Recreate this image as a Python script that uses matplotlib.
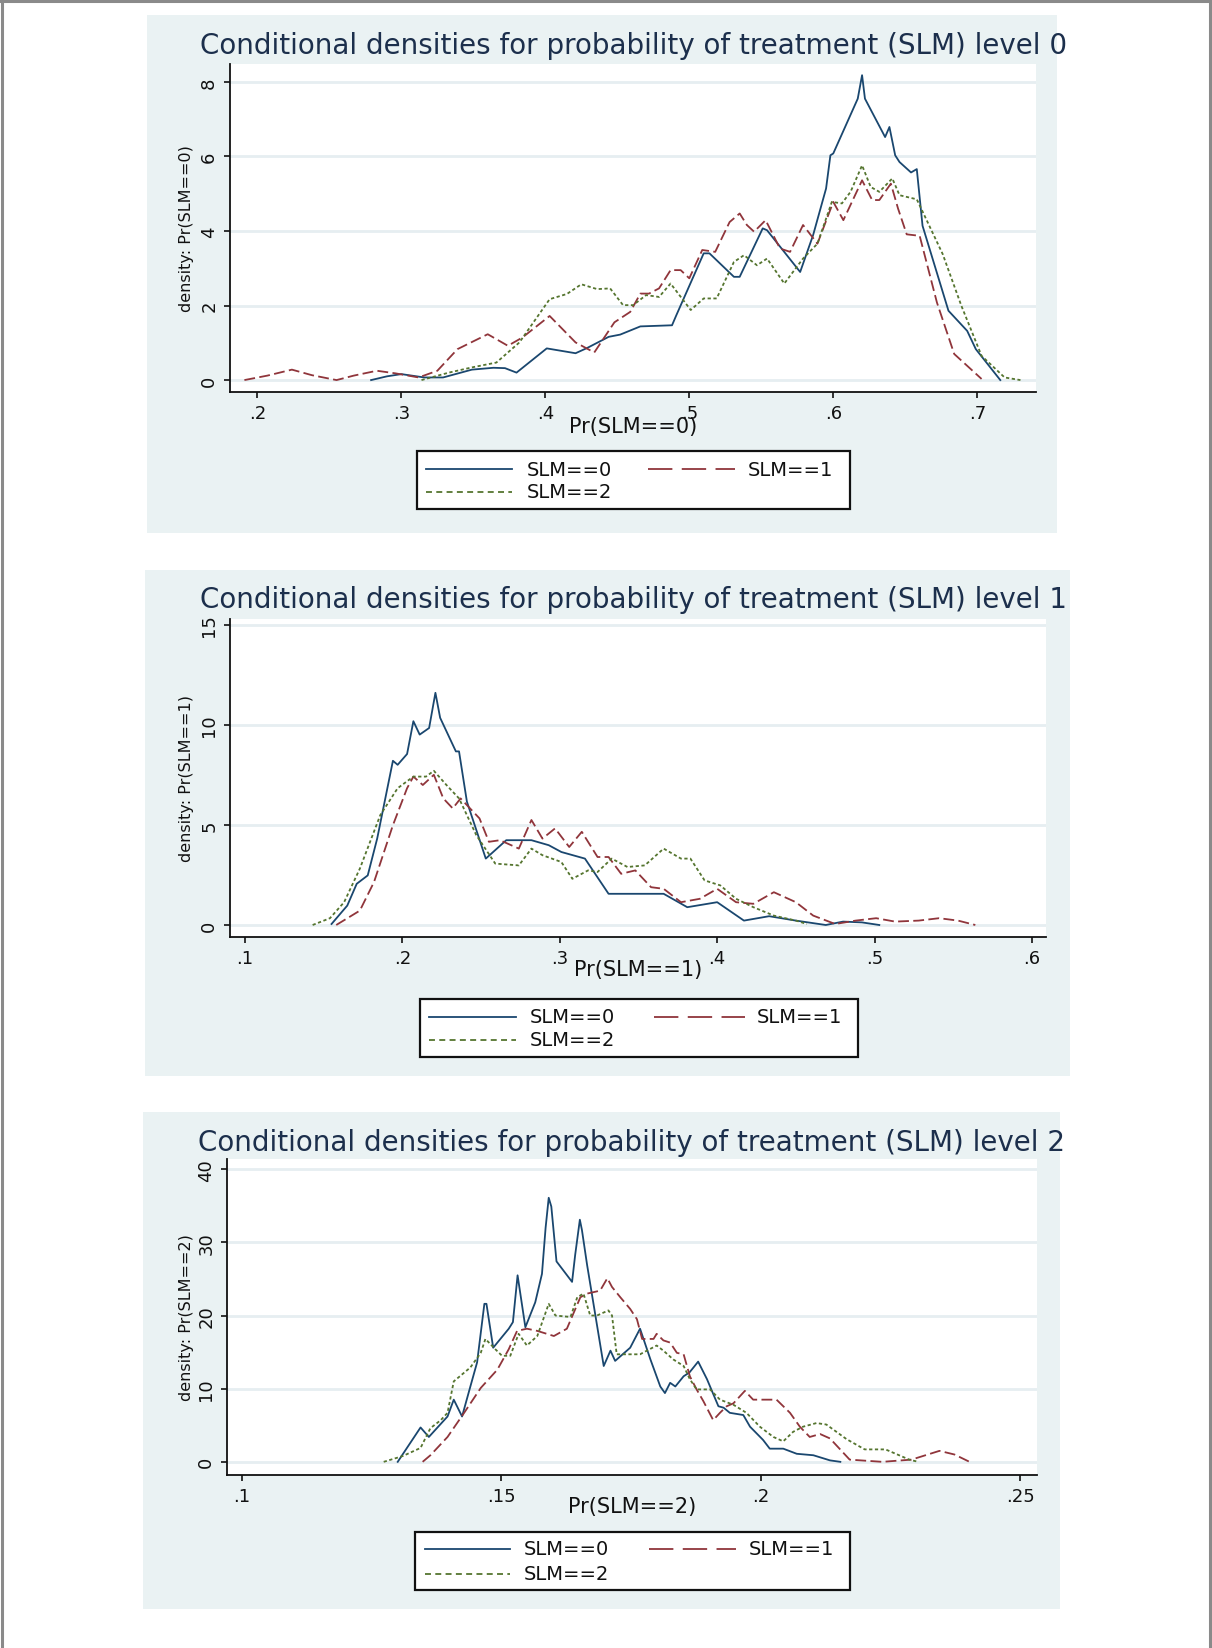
import matplotlib.pyplot as plt
from matplotlib.patches import Rectangle
from matplotlib.lines import Line2D

W, H = 1212, 1649
NAVY, MAROON, FOREST = '#1a476f', '#90353b', '#55752f'
PANEL_BG = '#eaf2f3'
GRID = '#e6eef1'
TITLE_COLOR = '#1c2f4c'

# ---- level 0: Pr(SLM==0) ----
p0_x_slm0 = [0.279, 0.290, 0.300, 0.316, 0.329, 0.349, 0.364, 0.372, 0.380, 0.401, 0.421, 0.429,
             0.444, 0.452, 0.466, 0.488, 0.491, 0.510, 0.514, 0.531, 0.535, 0.551, 0.554, 0.577,
             0.586, 0.595, 0.598, 0.600, 0.617, 0.620, 0.622, 0.636, 0.639, 0.643, 0.646, 0.654,
             0.658, 0.662, 0.680, 0.693, 0.699, 0.716]
p0_y_slm0 = [0.00, 0.10, 0.16, 0.07, 0.07, 0.28, 0.33, 0.32, 0.20, 0.85, 0.72, 0.86,
             1.16, 1.22, 1.44, 1.47, 1.74, 3.40, 3.40, 2.77, 2.77, 4.07, 4.02, 2.90,
             3.89, 5.14, 6.03, 6.08, 7.55, 8.18, 7.55, 6.52, 6.79, 6.03, 5.85, 5.57,
             5.66, 4.14, 1.86, 1.32, 0.83, 0.00]
p0_x_slm1 = [0.191, 0.207, 0.224, 0.238, 0.255, 0.267, 0.283, 0.296, 0.312, 0.325, 0.339, 0.360,
             0.374, 0.384, 0.403, 0.421, 0.434, 0.448, 0.459, 0.466, 0.472, 0.479, 0.487, 0.494,
             0.500, 0.509, 0.518, 0.528, 0.535, 0.540, 0.545, 0.553, 0.563, 0.570, 0.579, 0.589,
             0.600, 0.607, 0.620, 0.627, 0.632, 0.640, 0.645, 0.651, 0.660, 0.672, 0.684, 0.703]
p0_y_slm1 = [0.00, 0.12, 0.28, 0.13, 0.00, 0.12, 0.25, 0.18, 0.07, 0.25, 0.83, 1.23,
             0.92, 1.14, 1.72, 1.01, 0.74, 1.55, 1.83, 2.32, 2.32, 2.46, 2.95, 2.95,
             2.73, 3.49, 3.44, 4.24, 4.47, 4.16, 3.98, 4.29, 3.53, 3.44, 4.16, 3.66,
             4.78, 4.29, 5.36, 4.83, 4.83, 5.27, 4.60, 3.91, 3.87, 2.08, 0.70, 0.03]
p0_x_slm2 = [0.314, 0.333, 0.349, 0.366, 0.382, 0.403, 0.415, 0.425, 0.436, 0.445, 0.454, 0.461,
             0.470, 0.479, 0.487, 0.501, 0.510, 0.519, 0.531, 0.538, 0.547, 0.554, 0.566, 0.572,
             0.579, 0.589, 0.599, 0.606, 0.612, 0.620, 0.626, 0.632, 0.641, 0.646, 0.658, 0.676,
             0.689, 0.703, 0.719, 0.730]
p0_y_slm2 = [0.00, 0.20, 0.34, 0.47, 1.01, 2.17, 2.31, 2.57, 2.44, 2.46, 2.01, 2.01,
             2.28, 2.23, 2.59, 1.88, 2.19, 2.19, 3.17, 3.35, 3.08, 3.26, 2.59, 2.90,
             3.26, 3.66, 4.78, 4.74, 5.05, 5.76, 5.18, 5.05, 5.41, 4.96, 4.85, 3.38,
             1.99, 0.65, 0.07, 0.00]

# ---- level 1: Pr(SLM==1) ----
p1_x_slm0 = [0.155, 0.165, 0.171, 0.178, 0.184, 0.194, 0.197, 0.203, 0.207, 0.211, 0.217, 0.221,
             0.224, 0.234, 0.236, 0.241, 0.253, 0.266, 0.282, 0.293, 0.301, 0.316, 0.331, 0.366,
             0.381, 0.400, 0.417, 0.433, 0.450, 0.469, 0.480, 0.492, 0.503]
p1_y_slm0 = [0.05, 0.97, 2.06, 2.48, 4.32, 8.21, 8.01, 8.55, 10.19, 9.52, 9.85, 11.61,
             10.36, 8.68, 8.68, 6.17, 3.32, 4.24, 4.24, 3.99, 3.65, 3.32, 1.56, 1.56,
             0.89, 1.14, 0.22, 0.44, 0.22, 0.00, 0.17, 0.13, 0.00]
p1_x_slm1 = [0.158, 0.173, 0.182, 0.194, 0.203, 0.207, 0.213, 0.220, 0.226, 0.232, 0.237, 0.249,
             0.255, 0.262, 0.274, 0.282, 0.289, 0.297, 0.306, 0.314, 0.324, 0.331, 0.339, 0.348,
             0.358, 0.366, 0.377, 0.389, 0.400, 0.412, 0.423, 0.436, 0.450, 0.461, 0.475, 0.488,
             0.501, 0.513, 0.528, 0.541, 0.553, 0.564]
p1_y_slm1 = [0.00, 0.72, 2.15, 4.99, 6.84, 7.42, 7.00, 7.51, 6.33, 5.83, 6.33, 5.33,
             4.16, 4.24, 3.82, 5.25, 4.32, 4.83, 3.90, 4.66, 3.40, 3.40, 2.56, 2.73,
             1.89, 1.81, 1.14, 1.31, 1.81, 1.14, 1.06, 1.64, 1.14, 0.47, 0.05, 0.22,
             0.34, 0.17, 0.22, 0.34, 0.22, 0.00]
p1_x_slm2 = [0.143, 0.154, 0.163, 0.173, 0.186, 0.197, 0.207, 0.215, 0.220, 0.228, 0.236, 0.247,
             0.259, 0.274, 0.282, 0.289, 0.301, 0.308, 0.318, 0.324, 0.333, 0.343, 0.354, 0.366,
             0.377, 0.383, 0.392, 0.402, 0.412, 0.423, 0.436, 0.450, 0.457]
p1_y_slm2 = [0.00, 0.34, 1.14, 2.82, 5.50, 6.84, 7.42, 7.42, 7.71, 7.00, 6.33, 4.49,
             3.07, 2.98, 3.82, 3.49, 3.15, 2.31, 2.73, 2.65, 3.32, 2.90, 2.98, 3.82,
             3.32, 3.32, 2.23, 1.98, 1.31, 0.89, 0.47, 0.22, 0.05]

# ---- level 2: Pr(SLM==2) ----
p2_x_slm0 = [0.1300, 0.1344, 0.1360, 0.1396, 0.1408, 0.1424, 0.1440, 0.1453, 0.1467, 0.1471,
             0.1484, 0.1514, 0.1522, 0.1531, 0.1546, 0.1565, 0.1578, 0.1585, 0.1591, 0.1596,
             0.1606, 0.1636, 0.1642, 0.1651, 0.1655, 0.1665, 0.1697, 0.1710, 0.1719, 0.1748,
             0.1767, 0.1787, 0.1806, 0.1815, 0.1825, 0.1835, 0.1851, 0.1862, 0.1870, 0.1879,
             0.1896, 0.1918, 0.1928, 0.1940, 0.1966, 0.1979, 0.2004, 0.2017, 0.2043, 0.2069,
             0.2101, 0.2133, 0.2153]
p2_y_slm0 = [0.0, 4.7, 3.4, 6.2, 8.5, 6.2, 10.3, 13.6, 21.6, 21.6,
             15.6, 18.2, 19.1, 25.5, 18.4, 21.8, 25.7, 32.0, 36.1, 34.9,
             27.4, 24.6, 28.3, 33.1, 31.7, 26.9, 13.1, 15.2, 13.8, 15.6,
             18.2, 14.0, 10.3, 9.4, 10.8, 10.3, 11.7, 12.2, 12.9, 13.7,
             11.3, 7.6, 7.4, 6.7, 6.4, 4.8, 3.0, 1.8, 1.8, 1.1,
             0.9, 0.2, 0.0]
p2_x_slm1 = [0.1348, 0.1363, 0.1396, 0.1428, 0.1460, 0.1492, 0.1514, 0.1530, 0.1549, 0.1569,
             0.1601, 0.1626, 0.1652, 0.1665, 0.1690, 0.1704, 0.1713, 0.1729, 0.1748, 0.1761,
             0.1771, 0.1793, 0.1799, 0.1812, 0.1825, 0.1838, 0.1851, 0.1863, 0.1876, 0.1889,
             0.1908, 0.1921, 0.1934, 0.1947, 0.1969, 0.1985, 0.2030, 0.2056, 0.2075, 0.2094,
             0.2114, 0.2133, 0.2171, 0.2234, 0.2290, 0.2344, 0.2373, 0.2402]
p2_y_slm1 = [0.0, 0.9, 3.4, 6.7, 10.1, 12.6, 15.4, 17.9, 18.2, 17.9,
             17.2, 18.2, 22.5, 23.0, 23.4, 25.1, 23.9, 22.5, 20.9, 19.5,
             16.8, 16.8, 17.5, 16.6, 16.3, 14.9, 14.7, 11.7, 9.9, 8.3,
             5.7, 6.7, 7.6, 8.0, 9.7, 8.5, 8.5, 6.7, 4.8, 3.4,
             3.8, 3.2, 0.3, 0.0, 0.3, 1.5, 1.0, 0.0]
p2_x_slm2 = [0.1273, 0.1310, 0.1344, 0.1363, 0.1383, 0.1396, 0.1408, 0.1440, 0.1460, 0.1469,
             0.1488, 0.1501, 0.1517, 0.1533, 0.1549, 0.1569, 0.1591, 0.1604, 0.1633, 0.1646,
             0.1658, 0.1671, 0.1684, 0.1706, 0.1713, 0.1722, 0.1735, 0.1767, 0.1799, 0.1812,
             0.1831, 0.1851, 0.1863, 0.1876, 0.1902, 0.1921, 0.1947, 0.1972, 0.1998, 0.2024,
             0.2043, 0.2062, 0.2081, 0.2107, 0.2126, 0.2165, 0.2200, 0.2240, 0.2286, 0.2303]
p2_y_slm2 = [0.0, 0.8, 1.9, 4.6, 5.7, 6.7, 11.0, 12.9, 14.9, 16.8,
             15.4, 14.5, 14.5, 17.5, 15.9, 17.2, 21.6, 20.0, 19.8, 22.5,
             23.0, 20.0, 20.0, 20.7, 20.0, 14.7, 14.7, 14.7, 15.9, 15.2,
             14.0, 13.1, 11.3, 9.9, 9.9, 8.5, 7.8, 6.7, 4.8, 3.4,
             2.8, 4.1, 4.8, 5.3, 5.1, 3.1, 1.7, 1.7, 0.3, 0.0]

group_labels = ['SLM==0', 'SLM==1', 'SLM==2']
titles = ['Conditional densities for probability of treatment (SLM) level 0',
          'Conditional densities for probability of treatment (SLM) level 1',
          'Conditional densities for probability of treatment (SLM) level 2']
xlabels = ['Pr(SLM==0)', 'Pr(SLM==1)', 'Pr(SLM==2)']
ylabels = ['density: Pr(SLM==0)', 'density: Pr(SLM==1)', 'density: Pr(SLM==2)']
xticks = [[0.2, 0.3, 0.4, 0.5, 0.6, 0.7],
          [0.1, 0.2, 0.3, 0.4, 0.5, 0.6],
          [0.10, 0.15, 0.20, 0.25]]
xtick_labels = [['.2', '.3', '.4', '.5', '.6', '.7'],
                ['.1', '.2', '.3', '.4', '.5', '.6'],
                ['.1', '.15', '.2', '.25']]
yticks = [[0, 2, 4, 6, 8], [0, 5, 10, 15], [0, 10, 20, 30, 40]]

series = [
    [(p0_x_slm0, p0_y_slm0), (p0_x_slm1, p0_y_slm1), (p0_x_slm2, p0_y_slm2)],
    [(p1_x_slm0, p1_y_slm0), (p1_x_slm1, p1_y_slm1), (p1_x_slm2, p1_y_slm2)],
    [(p2_x_slm0, p2_y_slm0), (p2_x_slm1, p2_y_slm1), (p2_x_slm2, p2_y_slm2)],
]

# layout in pixels (left, top, right, bottom)
panel_boxes = [(147, 16, 1057, 534), (145, 571, 1070, 1077), (143, 1113, 1060, 1610)]
axes_boxes = [(230, 65, 1036, 393), (230, 620, 1046, 938), (227, 1160, 1037, 1476)]
xlims = [(0.181, 0.7408), (0.0905, 0.6089), (0.0971, 0.2532)]
ylims = [(-0.32, 8.48), (-0.6, 15.3), (-1.8, 41.4)]
title_pos = [(200, 46), (200, 600), (198, 1143)]
xlabel_y = [427, 970, 1507]
ylabel_x = 187
legend_boxes = [(417, 452, 850, 510), (420, 1000, 858, 1058), (415, 1533, 850, 1591)]
legend_rows = [(470, 493), (1018, 1041), (1550, 1575)]
legend_cols = [((426, 512, 527), (648, 735, 748)),
               ((429, 516, 530), (654, 745, 757)),
               ((425, 510, 524), (649, 736, 749))]

styles = [dict(color=NAVY, linestyle='-'),
          dict(color=MAROON, dashes=(6, 2.4)),
          dict(color=FOREST, dashes=(1.8, 1.4))]
legend_styles = [dict(color=NAVY, linestyle='-'),
                 dict(color=MAROON, dashes=(13.5, 5.2)),
                 dict(color=FOREST, dashes=(3.3, 2.4))]


def fx(x):
    return x / W


def fy(y):
    return 1 - y / H


fig = plt.figure(figsize=(W / 100, H / 100), dpi=100)
fig.patch.set_facecolor('white')

# thin grey frame round the page (left, top, right)
for xs, ys in [((1.5, 1.5), (0, H)), ((0, W), (1.5, 1.5)), ((1209.5, 1209.5), (0, H))]:
    fig.add_artist(Line2D([fx(v) for v in xs], [fy(v) for v in ys], color='#8a8a8a', lw=2.2))

for i in range(3):
    l, t, r, b = panel_boxes[i]
    fig.add_artist(Rectangle((fx(l), fy(b)), fx(r - l), (b - t) / H,
                             facecolor=PANEL_BG, edgecolor='none', zorder=0))

    al, at, ar, ab = axes_boxes[i]
    ax = fig.add_axes([fx(al), fy(ab), fx(ar - al), (ab - at) / H])
    ax.set_facecolor('white')
    ax.set_xlim(*xlims[i])
    ax.set_ylim(*ylims[i])
    for yv in yticks[i]:
        ax.axhline(yv, color=GRID, lw=2.0, zorder=1)
    for (xs, ys), st in zip(series[i], styles):
        ax.plot(xs, ys, lw=1.3, zorder=3, **st)

    for side in ('top', 'right'):
        ax.spines[side].set_visible(False)
    for side in ('left', 'bottom'):
        ax.spines[side].set_linewidth(1.3)
        ax.spines[side].set_color('#111111')

    ax.set_xticks(xticks[i])
    ax.set_xticklabels(xtick_labels[i])
    ax.set_yticks(yticks[i])
    ax.set_yticklabels([str(v) for v in yticks[i]])
    ax.tick_params(axis='both', length=4.5, width=1.2, colors='#111111', labelsize=13)
    ax.tick_params(axis='x', pad=4)
    ax.tick_params(axis='y', labelrotation=90, pad=4)
    for lbl in ax.get_yticklabels():
        lbl.set_va('center')

    ax.set_xlabel(xlabels[i], fontsize=15, color='#111111', va='center')
    ax.xaxis.set_label_coords(0.5, (ab - xlabel_y[i]) / (ab - at))
    ax.set_ylabel(ylabels[i], fontsize=11.5, color='#111111', va='center')
    ax.yaxis.set_label_coords((ylabel_x - al) / (ar - al), 0.5)

    tx, ty = title_pos[i]
    fig.text(fx(tx), fy(ty), titles[i], fontsize=20, color=TITLE_COLOR,
             ha='left', va='center')

    # legend box
    ll, lt, lr, lb = legend_boxes[i]
    fig.add_artist(Rectangle((fx(ll), fy(lb)), fx(lr - ll), (lb - lt) / H,
                             facecolor='white', edgecolor='#111111', lw=1.6, zorder=4))
    row1, row2 = legend_rows[i]
    slots = [(legend_cols[i][0], row1), (legend_cols[i][1], row1), (legend_cols[i][0], row2)]
    for ((x0, x1, lx), ry), name, st in zip(slots, group_labels, legend_styles):
        fig.add_artist(Line2D([fx(x0), fx(x1)], [fy(ry), fy(ry)], lw=1.3, zorder=5, **st))
        fig.text(fx(lx), fy(ry), name, fontsize=14, color='#111111',
                 ha='left', va='center', zorder=5)

fig.savefig('out.png', dpi=100, facecolor='white')
